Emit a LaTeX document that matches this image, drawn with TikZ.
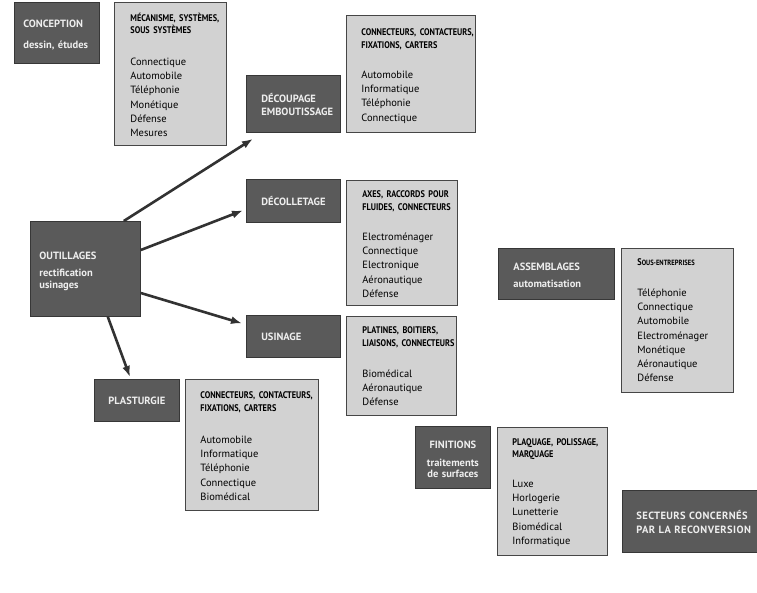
\documentclass[tikz,border=0pt]{standalone}
\usepackage{fontspec}
\setmainfont{PT Sans}
\newfontfamily\etroit[FakeStretch=0.86]{PT Sans}
\usetikzlibrary{arrows.meta}

\definecolor{grisfonce}{RGB}{90,90,90}
\definecolor{bordfonce}{RGB}{55,55,55}
\definecolor{grisclair}{RGB}{210,210,210}
\definecolor{bordclair}{RGB}{70,70,70}
\definecolor{texteclair}{RGB}{238,238,238}
\definecolor{grisfleche}{RGB}{50,50,50}

\newcommand{\titre}{\fontsize{10.5}{13}\selectfont\bfseries}
\newcommand{\entete}{\etroit\fontsize{9.6}{14.2}\selectfont\bfseries}
\newcommand{\liste}{\normalfont\fontsize{10.5}{14.2}\selectfont}

\begin{document}
\begin{tikzpicture}[x=1pt,y=1pt,
  boitefonce/.style={fill=grisfonce, draw=bordfonce, line width=0.8pt, anchor=north west,
    align=left, inner xsep=15pt, inner ysep=0pt, text=texteclair, font=\titre},
  boiteclaire/.style={fill=grisclair, draw=bordclair, line width=0.8pt, anchor=north west,
    align=left, inner xsep=16pt, inner ysep=0pt, font=\liste},
  fleche/.style={draw=grisfleche, line width=2.6pt, -{Latex[length=11pt,width=8pt]}}]
 \clip (0,0) rectangle (757,-592);
 \fill[white] (0,0) rectangle (757,-592);
 %haut gauche
    \node[boitefonce, inner xsep=9pt, text width=67pt, text height=25pt, text depth=36pt]
      (concep) at (14,-2) {CONCEPTION\\[8pt]dessin, études};
    \node[boiteclaire, text width=80pt, text height=19pt, text depth=124pt] (meca) at (114,-2)
      {\entete\mbox{MÉCANISME, SYSTÈMES,}\\[-2.2pt]\mbox{SOUS SYSTÈMES}\\[17.8pt]\liste Connectique\\Automobile\\Téléphonie\\Monétique\\Défense\\Mesures};
 %colonne du milieu
    \node[boitefonce, text width=64pt, text height=27pt, text depth=30pt]
      (decoup) at (246,-75) {DÉCOUPAGE\\EMBOUTISSAGE};
    \node[boiteclaire, inner xsep=15pt, text width=99pt, text height=20pt, text depth=97pt] (conn1) at (346,-15)
      {\entete\mbox{CONNECTEURS, CONTACTEURS,}\\[-1.2pt]\mbox{FIXATIONS, CARTERS}\\[15.8pt]\liste Automobile\\Informatique\\Téléphonie\\Connectique};
    \node[boitefonce, text width=64pt, text height=26pt, text depth=17pt]
      (decol) at (246,-179) {DÉCOLLETAGE};
    \node[boiteclaire, text width=79pt, text height=17pt, text depth=108pt] (axes) at (346,-180)
      {\entete\mbox{AXES, RACCORDS POUR}\\[-1.2pt]\mbox{FLUIDES, CONNECTEURS}\\[15.8pt]\liste Electroménager\\Connectique\\Electronique\\Aéronautique\\Défense};
    \node[boitefonce, text width=64pt, text height=25pt, text depth=17pt]
      (usin) at (246,-315) {USINAGE};
    \node[boiteclaire, text width=78pt, text height=17pt, text depth=82pt] (plat) at (346,-316)
      {\entete\mbox{PLATINES, BOITIERS,}\\[-1.2pt]\mbox{LIAISONS, CONNECTEURS}\\[16.8pt]\liste Biomédical\\Aéronautique\\Défense};
 %outillages
    \node[boitefonce, inner xsep=9pt, text width=92pt, text height=38pt, text depth=57pt]
      (outil) at (30,-221) {OUTILLAGES\\[4pt]rectification\\[-1pt]usinages};
    \node[boitefonce, inner xsep=14pt, text width=57pt, text height=25pt, text depth=17pt]
      (plast) at (94,-379) {PLASTURGIE};
    \node[boiteclaire, inner xsep=15pt, text width=103pt, text height=19pt, text depth=112pt] (conn2) at (185,-379)
      {\entete\mbox{CONNECTEURS, CONTACTEURS,}\\[-1.2pt]\mbox{FIXATIONS, CARTERS}\\[17.8pt]\liste Automobile\\Informatique\\Téléphonie\\Connectique\\Biomédical};
 %droite
    \node[boitefonce, align=center, inner xsep=3pt, text width=69pt, text height=22pt, text depth=40pt]
      (finit) at (415,-426) {FINITIONS\\[5pt]traitements\\[-1.5pt]de surfaces};
    \node[boiteclaire, inner xsep=15pt, text width=80pt, text height=18pt, text depth=110pt] (plaq) at (497,-427)
      {\entete\mbox{PLAQUAGE, POLISSAGE,}\\[-2.2pt]\mbox{MARQUAGE}\\[15.8pt]\liste Luxe\\Horlogerie\\Lunetterie\\Biomédical\\Informatique};
    \node[boitefonce, text width=86pt, text height=22pt, text depth=29pt]
      (assemb) at (498,-248) {ASSEMBLAGES\\[4pt]automatisation};
    \node[boiteclaire, text width=80pt, text height=17pt, text depth=127pt] (sous) at (621,-248)
      {\entete\mbox{S{\fontsize{7.6}{14.2}\selectfont OUS-ENTREPRISES}}\\[16.8pt]\liste Téléphonie\\Connectique\\Automobile\\Electroménager\\Monétique\\Aéronautique\\Défense};
    \node[boitefonce, inner xsep=14pt, text width=112pt, text height=29pt, text depth=33pt,
      font=\titre\addfontfeature{LetterSpace=4}]
      (secteur) at (622,-490) {\mbox{SECTEURS CONCERNÉS}\\[1pt]\mbox{PAR LA RECONVERSION}};
 %fleches
    \draw[fleche] ([xshift=-17pt]outil.north east) -- ([shift={(7,-6)}]decoup.south west);
    \draw[fleche] ([yshift=-29pt]outil.north east) -- ([shift={(-3,-9.5)}]decol.west);
    \draw[fleche] ([yshift=-72pt]outil.north east) -- ([shift={(-4,13)}]usin.west);
    \draw[fleche] ([xshift=-33pt]outil.south east) -- ([shift={(36,2)}]plast.north west);
\end{tikzpicture}
\end{document}
